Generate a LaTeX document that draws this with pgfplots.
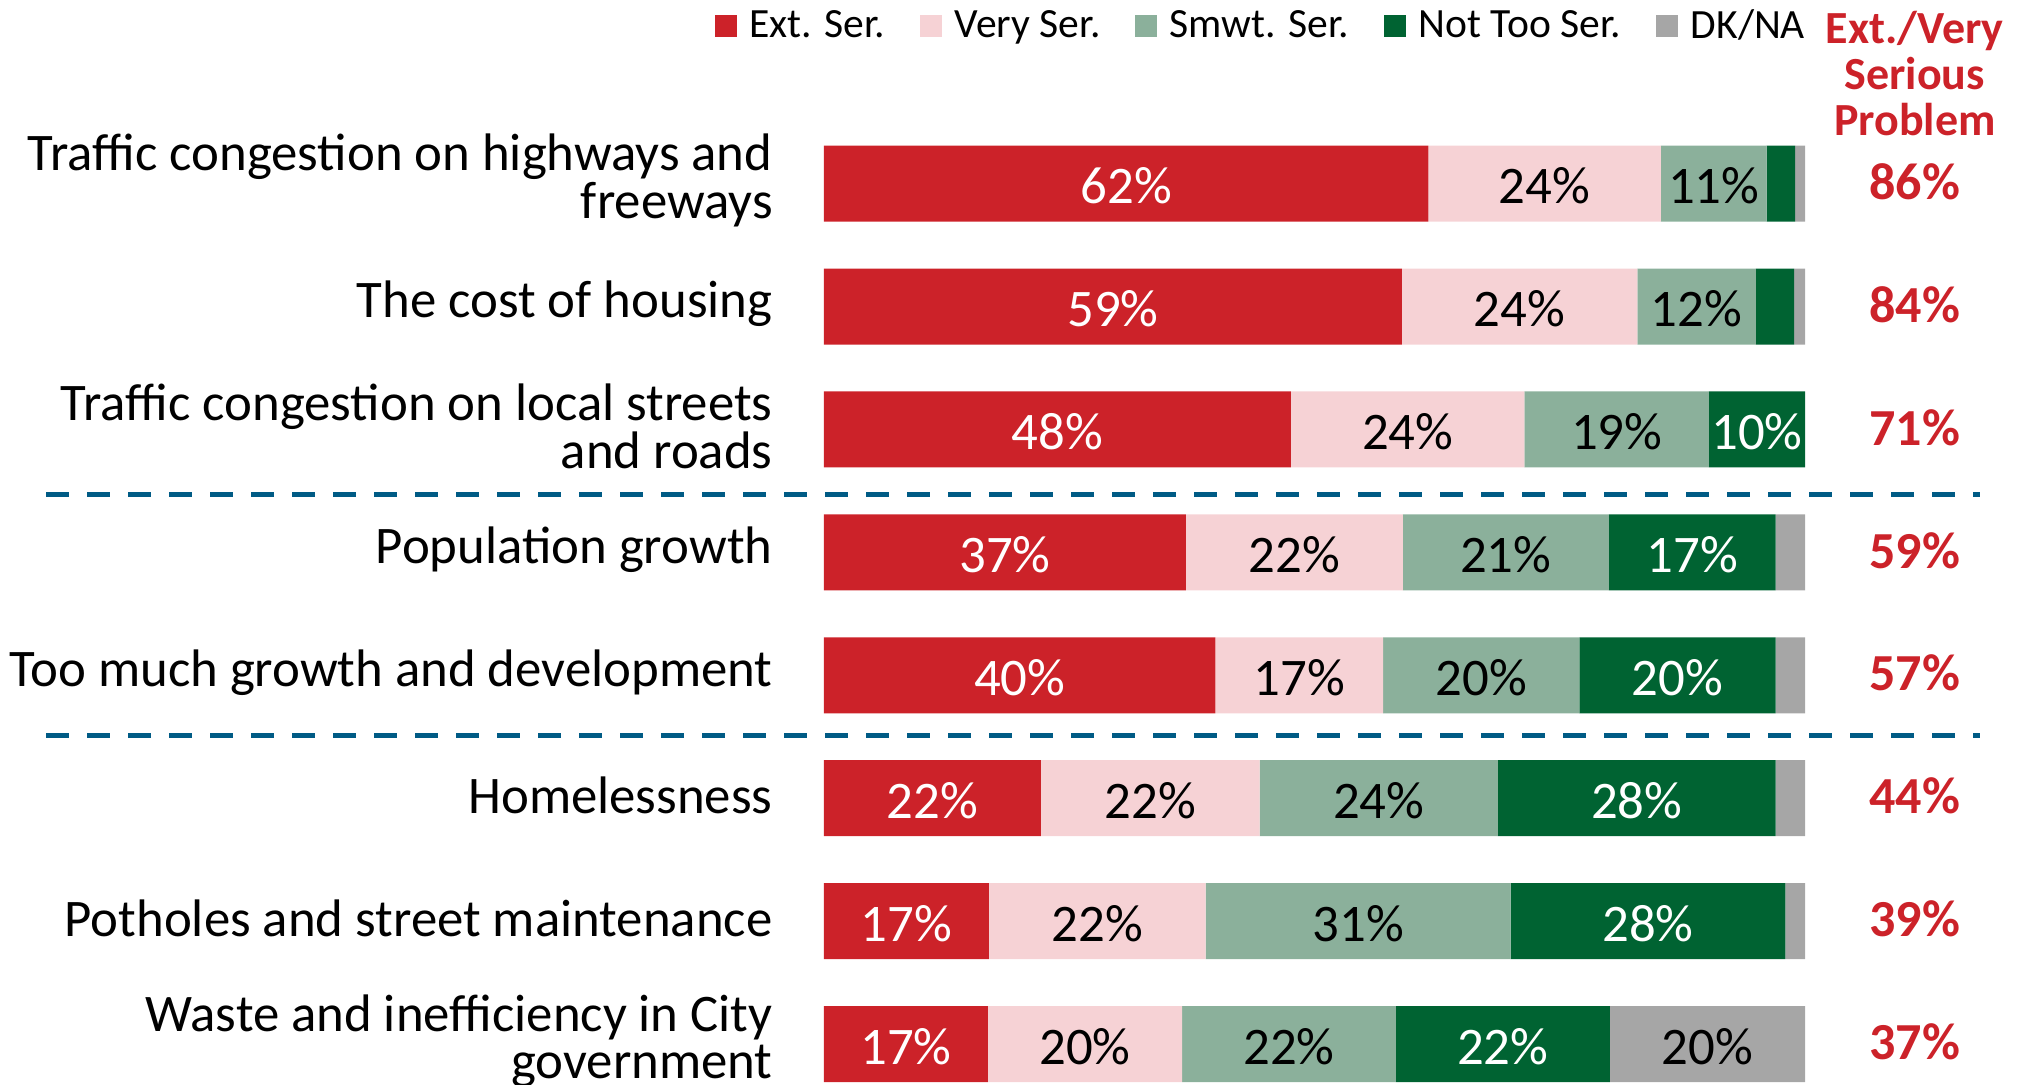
\documentclass[border=0pt]{standalone}
\usepackage{pgfplots}
\pgfplotsset{compat=1.18}
\usepackage{fontspec}
\setmainfont{Carlito}
\definecolor{cExt}{HTML}{CC2229}
\definecolor{cVery}{HTML}{F6D2D5}
\definecolor{cSmwt}{HTML}{8BB09B}
\definecolor{cNot}{HTML}{006332}
\definecolor{cDK}{HTML}{A6A6A6}
\definecolor{cLine}{HTML}{005B85}
\newcommand{\bigfont}{\fontsize{26.4}{23.7}\selectfont}
\newcommand{\lab}[4]{\node[font=\bigfont, text=#4, inner sep=0pt, yshift=-1.3pt] at (axis cs:#1,#2) {#3\%};}
\newcommand{\cat}[2]{\node[anchor=east, align=right, font=\bigfont, inner sep=0pt, yshift=1.5pt] at (axis cs:-5.2,#1) {#2};}
\newcommand{\tot}[2]{\node[font=\fontsize{26}{25}\selectfont\bfseries, text=cExt, inner sep=0pt, yshift=1pt] at (axis cs:111.2,#1) {#2\%};}
\pgfplotsset{base/.style={hide axis, x=4.905pt, y=61.46pt, y dir=reverse,
  xmin=0, xmax=100, ymin=1, ymax=8, clip=false, at={(0,0)}, anchor=south west}}
\begin{document}
\begin{tikzpicture}
\begin{axis}[
  base, xbar stacked, bar width=38pt,
  legend columns=-1,
  legend style={at={(axis cs:100,-0.284)}, anchor=east, draw=none, fill=none,
    font=\fontsize{20.8}{20.8}\selectfont, inner sep=0pt, outer sep=0pt,
    nodes={inner sep=0pt},
    /tikz/every odd column/.append style={column sep=6.2pt},
    /tikz/every even column/.append style={column sep=17.5pt}},
  legend image code/.code={\fill[#1] (0pt,-5.5pt) rectangle (11pt,5.5pt);},
]
\addplot[fill=cExt, draw=none] coordinates {(61.6,1) (58.9,2) (47.6,3) (36.9,4) (39.9,5) (22.1,6) (16.8,7) (16.7,8)};
\addplot[fill=cVery, draw=none] coordinates {(23.7,1) (24.0,2) (23.8,3) (22.1,4) (17.1,5) (22.3,6) (22.1,7) (19.8,8)};
\addplot[fill=cSmwt, draw=none] coordinates {(10.8,1) (12.1,2) (18.8,3) (21.0,4) (20.0,5) (24.3,6) (31.1,7) (21.8,8)};
\addplot[fill=cNot, draw=none] coordinates {(2.9,1) (3.9,2) (9.8,3) (17.0,4) (20.0,5) (28.3,6) (28.0,7) (21.8,8)};
\addplot[fill=cDK, draw=none] coordinates {(1.0,1) (1.1,2) (0,3) (3.0,4) (3.0,5) (3.0,6) (2.0,7) (19.9,8)};
\legend{Ext. Ser., Very Ser., Smwt. Ser., Not Too Ser., DK/NA}
\coordinate (tl) at (axis cs:0,1);
\end{axis}
\begin{axis}[base]
% segment labels
\lab{30.8}{1}{62}{white}\lab{73.45}{1}{24}{black}\lab{90.7}{1}{11}{black}
\lab{29.45}{2}{59}{white}\lab{70.9}{2}{24}{black}\lab{88.95}{2}{12}{black}
\lab{23.8}{3}{48}{white}\lab{59.5}{3}{24}{black}\lab{80.8}{3}{19}{black}\lab{95.1}{3}{10}{white}
\lab{18.45}{4}{37}{white}\lab{47.95}{4}{22}{black}\lab{69.5}{4}{21}{black}\lab{88.5}{4}{17}{white}
\lab{19.95}{5}{40}{white}\lab{48.45}{5}{17}{black}\lab{67}{5}{20}{black}\lab{87}{5}{20}{white}
\lab{11.05}{6}{22}{white}\lab{33.25}{6}{22}{black}\lab{56.55}{6}{24}{black}\lab{82.85}{6}{28}{white}
\lab{8.4}{7}{17}{white}\lab{27.85}{7}{22}{black}\lab{54.45}{7}{31}{black}\lab{84}{7}{28}{white}
\lab{8.35}{8}{17}{white}\lab{26.6}{8}{20}{black}\lab{47.4}{8}{22}{black}\lab{69.2}{8}{22}{white}\lab{90.05}{8}{20}{black}
% categories
\cat{1}{Traffic congestion on highways and\\freeways}
\cat{2}{The cost of housing}
\cat{3}{Traffic congestion on local streets\\and roads}
\cat{4}{Population growth}
\cat{5}{Too much growth and development}
\cat{6}{Homelessness}
\cat{7}{Potholes and street maintenance}
\cat{8}{Waste and inefficiency in City\\government}
% totals
\tot{1}{86}\tot{2}{84}\tot{3}{71}\tot{4}{59}\tot{5}{57}\tot{6}{44}\tot{7}{39}\tot{8}{37}
\node[font=\fontsize{23}{23}\selectfont\bfseries, text=cExt, align=center, inner sep=0pt] at (axis cs:111.2,0.105) {Ext./Very\\Serious\\Problem};
% separators
\draw[cLine, line width=2.9pt, dash pattern=on 11.7pt off 8.8pt] (axis cs:-79.3,3.53) -- (axis cs:117.8,3.53);
\draw[cLine, line width=2.9pt, dash pattern=on 11.7pt off 8.8pt] (axis cs:-79.3,5.49) -- (axis cs:117.8,5.49);
\end{axis}
\pgfresetboundingbox
\path[use as bounding box] ([shift={(-412pt,91.8pt)}]tl) rectangle ([shift={(598pt,-450.2pt)}]tl);
\end{tikzpicture}
\end{document}
